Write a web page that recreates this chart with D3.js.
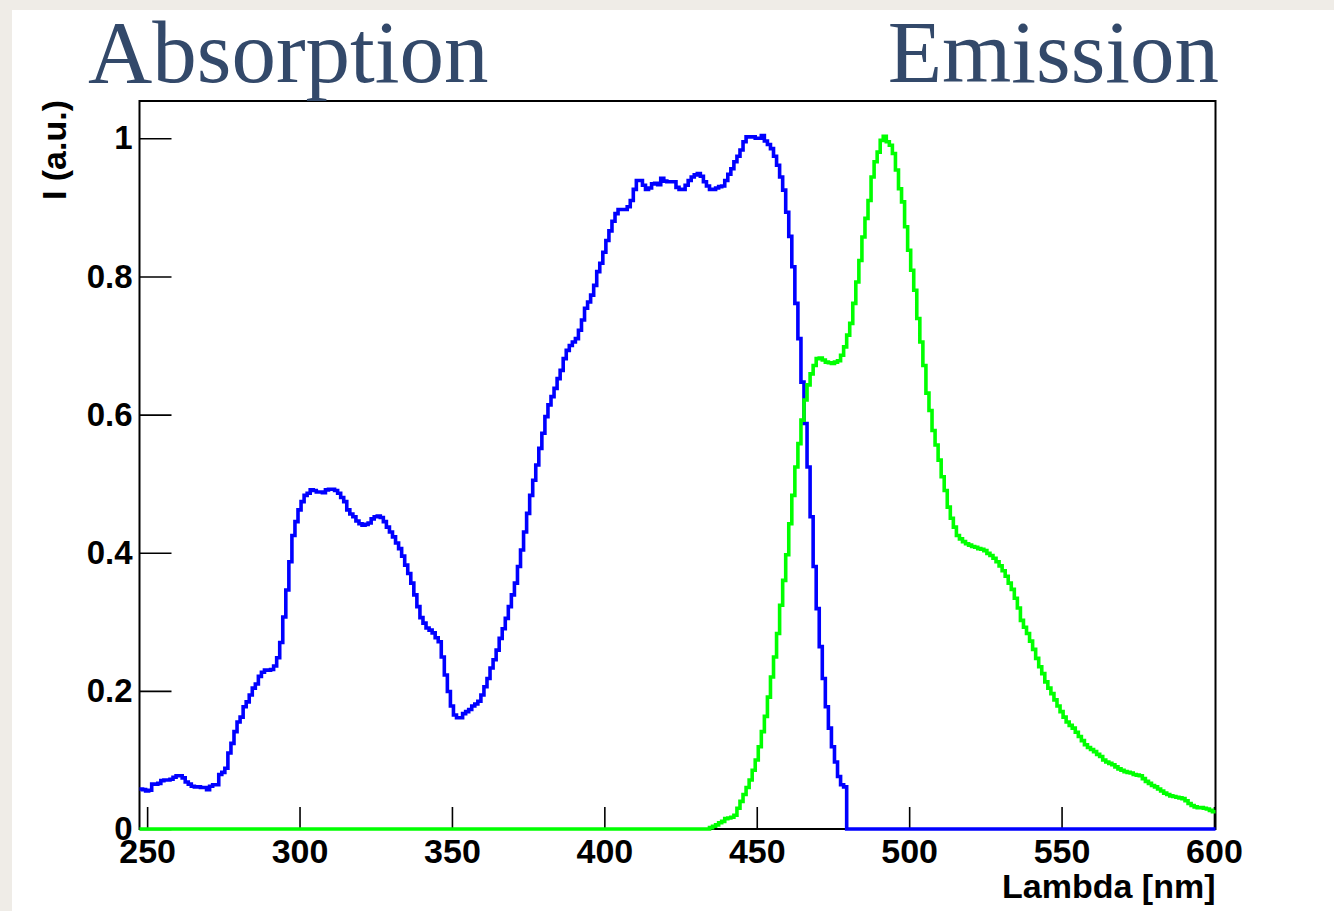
<!DOCTYPE html>
<html>
<head>
<meta charset="utf-8">
<script src="https://cdn.jsdelivr.net/npm/d3@7"></script>
<style>
  html, body { margin: 0; padding: 0; background: #efece7; }
  svg { display: block; }
</style>
</head>
<body>
<svg id="chart" width="1334" height="911"></svg>
<script>
// Spectra sampled in 1 nm bins, bin centres from 248 nm to 600 nm
const binFirst = 248;
const binLast = 600;

// Absorption spectrum, bins 248 .. 479 nm (zero afterwards)
const absorptionStart = 248;
const absorption = [
  0.058, 0.057, 0.055, 0.056, 0.065, 0.065, 0.066, 0.070, 0.071, 0.071, // 248-257
  0.072, 0.075, 0.077, 0.077, 0.074, 0.068, 0.065, 0.062, 0.061, 0.061, // 258-267
  0.060, 0.060, 0.057, 0.062, 0.064, 0.064, 0.079, 0.082, 0.088, 0.110, // 268-277
  0.124, 0.141, 0.155, 0.162, 0.177, 0.184, 0.194, 0.204, 0.210, 0.221, // 278-287
  0.227, 0.230, 0.230, 0.231, 0.236, 0.248, 0.270, 0.307, 0.346, 0.387, // 288-297
  0.425, 0.445, 0.462, 0.474, 0.483, 0.486, 0.491, 0.490, 0.488, 0.488, // 298-307
  0.487, 0.491, 0.492, 0.492, 0.490, 0.486, 0.480, 0.474, 0.462, 0.456, // 308-317
  0.452, 0.446, 0.442, 0.440, 0.441, 0.443, 0.449, 0.452, 0.453, 0.451, // 318-327
  0.445, 0.437, 0.430, 0.423, 0.414, 0.406, 0.395, 0.382, 0.370, 0.356, // 328-337
  0.339, 0.322, 0.306, 0.298, 0.291, 0.288, 0.284, 0.277, 0.271, 0.249, // 338-347
  0.223, 0.199, 0.178, 0.165, 0.161, 0.161, 0.167, 0.170, 0.173, 0.178, // 348-357
  0.181, 0.185, 0.194, 0.206, 0.218, 0.233, 0.245, 0.259, 0.276, 0.290, // 358-367
  0.305, 0.322, 0.339, 0.356, 0.380, 0.404, 0.430, 0.457, 0.483, 0.505, // 368-377
  0.527, 0.551, 0.573, 0.597, 0.614, 0.626, 0.638, 0.652, 0.664, 0.681, // 378-387
  0.693, 0.700, 0.705, 0.710, 0.722, 0.737, 0.754, 0.763, 0.773, 0.787, // 388-397
  0.807, 0.819, 0.835, 0.852, 0.866, 0.880, 0.891, 0.897, 0.897, 0.897, // 398-407
  0.901, 0.910, 0.926, 0.939, 0.939, 0.932, 0.926, 0.928, 0.934, 0.935, // 408-417
  0.933, 0.942, 0.938, 0.937, 0.937, 0.937, 0.929, 0.926, 0.926, 0.932, // 418-427
  0.939, 0.944, 0.947, 0.949, 0.945, 0.937, 0.931, 0.926, 0.926, 0.928, // 428-437
  0.930, 0.931, 0.939, 0.948, 0.956, 0.966, 0.974, 0.983, 0.995, 1.002, // 438-447
  1.002, 1.002, 1.000, 1.000, 1.004, 0.996, 0.991, 0.985, 0.974, 0.961, // 448-457
  0.944, 0.925, 0.893, 0.858, 0.814, 0.761, 0.710, 0.647, 0.587, 0.524, // 458-467
  0.452, 0.380, 0.319, 0.264, 0.218, 0.177, 0.146, 0.119, 0.097, 0.076, // 468-477
  0.064, 0.061                                                          // 478-479
];

// Emission spectrum, bins 435 .. 600 nm (zero before)
const emissionStart = 435;
const emission = [
  0.002, 0.004, 0.006, 0.009, 0.011, 0.015, 0.016, 0.017, 0.020, 0.030, // 435-444
  0.040, 0.050, 0.060, 0.071, 0.085, 0.100, 0.119, 0.141, 0.163, 0.191, // 445-454
  0.220, 0.249, 0.283, 0.324, 0.360, 0.397, 0.442, 0.483, 0.524, 0.558, // 455-464
  0.592, 0.621, 0.643, 0.659, 0.671, 0.681, 0.682, 0.679, 0.676, 0.675, // 465-474
  0.674, 0.676, 0.678, 0.686, 0.698, 0.715, 0.732, 0.761, 0.792, 0.823, // 475-484
  0.857, 0.884, 0.910, 0.944, 0.966, 0.980, 0.997, 1.003, 0.995, 0.990, // 485-494
  0.978, 0.954, 0.927, 0.908, 0.872, 0.838, 0.809, 0.780, 0.739, 0.705, // 495-504
  0.671, 0.631, 0.606, 0.577, 0.556, 0.534, 0.510, 0.490, 0.466, 0.450, // 505-514
  0.437, 0.425, 0.420, 0.416, 0.413, 0.411, 0.409, 0.408, 0.406, 0.405, // 515-524
  0.403, 0.399, 0.396, 0.392, 0.387, 0.381, 0.374, 0.366, 0.356, 0.347, // 525-534
  0.334, 0.320, 0.302, 0.292, 0.283, 0.272, 0.260, 0.247, 0.235, 0.225, // 535-544
  0.213, 0.204, 0.196, 0.187, 0.178, 0.170, 0.162, 0.155, 0.150, 0.146, // 545-554
  0.140, 0.134, 0.128, 0.122, 0.118, 0.115, 0.112, 0.108, 0.105, 0.100, // 555-564
  0.097, 0.095, 0.093, 0.090, 0.087, 0.085, 0.083, 0.082, 0.081, 0.079, // 565-574
  0.078, 0.077, 0.073, 0.069, 0.066, 0.063, 0.061, 0.058, 0.055, 0.052, // 575-584
  0.050, 0.048, 0.047, 0.046, 0.045, 0.044, 0.041, 0.037, 0.034, 0.032, // 585-594
  0.031, 0.031, 0.030, 0.029, 0.027, 0.025                              // 595-600
];

// Axis ticks and labels
const xMajorTicks = [250, 300, 350, 400, 450, 500, 550, 600];
const xMinorStep = 10;
const yMajorTicks = [0, 0.2, 0.4, 0.6, 0.8, 1];
const yTickLabels = ["0", "0.2", "0.4", "0.6", "0.8", "1"];
const yMinorStep = 0.05;
const yMax = 1.054;

const xTitle = "Lambda [nm]";
const yTitle = "I (a.u.)";
const leftHeading = "Absorption";
const rightHeading = "Emission";

// ---------------------------------------------------------------
const svg = d3.select("#chart");
const W = 1334, H = 911;

// Page panel
svg.append("rect").attr("x", 0).attr("y", 0).attr("width", W).attr("height", H).attr("fill", "#efece7");
svg.append("rect").attr("x", 12).attr("y", 10).attr("width", W - 12).attr("height", H - 10).attr("fill", "#ffffff");

const frame = { left: 139.5, right: 1215.5, top: 101, bottom: 829 };

const x = d3.scaleLinear().domain([binFirst - 0.5, binLast + 0.5]).range([frame.left, frame.right]);
const y = d3.scaleLinear().domain([0, yMax]).range([frame.bottom, frame.top]);

const labelFont = "'Liberation Sans', Arial, Helvetica, sans-serif";

// Minor and major tick values
const xMinorTicks = d3.range(binFirst - 0.5, binLast + 0.5, 1)
  .map(Math.ceil)
  .filter((v, i, a) => a.indexOf(v) === i && v % xMinorStep === 0 && !xMajorTicks.includes(v));
const yMinorTicks = d3.range(0, yMax, yMinorStep)
  .map(v => +v.toFixed(2))
  .filter(v => !yMajorTicks.some(t => Math.abs(t - v) < 1e-6));

// Bottom axis: ticks point into the frame
const gx = svg.append("g").attr("transform", `translate(0,${frame.bottom})`);
gx.call(d3.axisBottom(x).tickValues(xMinorTicks).tickSize(-11).tickFormat(""));
gx.call(d3.axisBottom(x).tickValues(xMajorTicks).tickSize(-22).tickPadding(10).tickFormat(d3.format("d")));

const gy = svg.append("g").attr("transform", `translate(${frame.left},0)`);
gy.call(d3.axisLeft(y).tickValues(yMinorTicks).tickSize(-16).tickFormat(""));
gy.call(d3.axisLeft(y).tickValues(yMajorTicks).tickSize(-32).tickPadding(7)
  .tickFormat((d, i) => yTickLabels[i]));

svg.selectAll(".domain").remove();
svg.selectAll(".tick line").attr("stroke", "#000").attr("stroke-width", 1.6);
gx.selectAll(".tick text")
  .attr("font-family", labelFont).attr("font-weight", "bold")
  .attr("font-size", 34).attr("fill", "#000");
gy.selectAll(".tick text")
  .attr("font-family", labelFont).attr("font-weight", "bold")
  .attr("font-size", 33).attr("fill", "#000");

// Frame box
svg.append("rect")
  .attr("x", frame.left).attr("y", frame.top)
  .attr("width", frame.right - frame.left).attr("height", frame.bottom - frame.top)
  .attr("fill", "none").attr("stroke", "#000").attr("stroke-width", 2);

// Histograms drawn as steps
function histogramPoints(values, start) {
  const pts = [];
  for (let n = binFirst; n <= binLast; n++) {
    const i = n - start;
    const v = (i >= 0 && i < values.length) ? values[i] : 0;
    pts.push([n - 0.5, v]);
  }
  pts.push([binLast + 0.5, pts[pts.length - 1][1]]);
  return pts;
}

const stepLine = d3.line()
  .x(d => x(d[0]))
  .y(d => y(d[1]))
  .curve(d3.curveStepAfter);

svg.append("path")
  .datum(histogramPoints(absorption, absorptionStart))
  .attr("d", stepLine)
  .attr("fill", "none")
  .attr("stroke", "#0000ff")
  .attr("stroke-width", 3.6);

svg.append("path")
  .datum(histogramPoints(emission, emissionStart))
  .attr("d", stepLine)
  .attr("fill", "none")
  .attr("stroke", "#00ff00")
  .attr("stroke-width", 3.6);

// Axis titles
svg.append("text")
  .attr("x", frame.right).attr("y", 898)
  .attr("text-anchor", "end")
  .attr("font-family", labelFont).attr("font-weight", "bold")
  .attr("font-size", 34)
  .text(xTitle);

svg.append("text")
  .attr("transform", `translate(66,${frame.top - 1}) rotate(-90)`)
  .attr("text-anchor", "end")
  .attr("font-family", labelFont).attr("font-weight", "bold")
  .attr("font-size", 34)
  .text(yTitle);

// Headings above the plot
const headingFont = "'Liberation Serif', 'DejaVu Serif', serif";
svg.append("text")
  .attr("x", 88).attr("y", 82)
  .attr("font-family", headingFont).attr("font-size", 89)
  .attr("fill", "#33496a")
  .text(leftHeading);

svg.append("text")
  .attr("x", 1219).attr("y", 82)
  .attr("text-anchor", "end")
  .attr("font-family", headingFont).attr("font-size", 89)
  .attr("fill", "#33496a")
  .text(rightHeading);
</script>
</body>
</html>
